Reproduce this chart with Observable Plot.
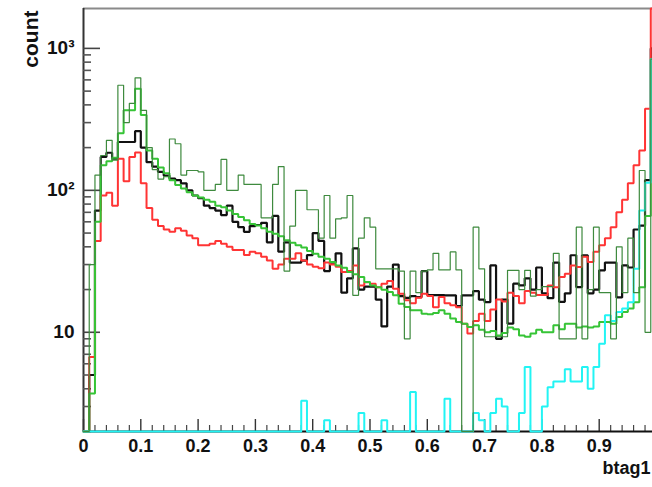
<!DOCTYPE html>
<html>
<head>
<meta charset="utf-8">
<script src="https://cdn.jsdelivr.net/npm/d3@7"></script>
<script src="https://cdn.jsdelivr.net/npm/@observablehq/plot@0.6"></script>
<style>
  html, body { margin: 0; padding: 0; background: #fff; }
  #chart svg { display: block; font-family: "Liberation Sans", Arial, Helvetica, sans-serif; }
</style>
</head>
<body>
<div id="chart"></div>
<script>
// Histogram binning of btag1: 100 bins on [0, 1]
const binCount = 100;
const xMin = 0, xMax = 1;
const yMin = 2, yMax = 1910;

// Bin contents per sample (counts per bin, bin 0 first)
const blackCounts = [
  0, 5, 72, 172, 184, 167, 219, 219, 219, 261,
  200, 158, 147, 135, 127, 121, 118, 112, 100, 92,
  88, 78, 75, 72, 67, 78, 60, 55, 51, 56,
  57, 59, 43, 66, 37, 43, 31, 31, 32, 35,
  50, 44, 27, 31, 36, 19, 24, 39, 20, 21,
  21, 17, 11, 21, 30, 18, 17.5, 18, 17.7, 27,
  18.3, 18.3, 18.3, 18.2, 18.2, 15.3, 18.2, 18.2, 19.5, 17,
  16.3, 29.6, 9, 17, 11.5, 22, 21.4, 24, 20, 28.6,
  18.8, 17.4, 31, 16.4, 18.8, 34.9, 20.8, 34.9, 18.8, 20,
  27.3, 31, 31, 17.6, 29.6, 28.6, 53, 56.5, 118, 1000
];
const redCounts = [
  0, 6.7, 44, 92, 96, 78, 167, 116, 172, 185,
  112, 75, 62, 56, 53, 51, 54, 52, 48, 46,
  41, 41, 42, 44, 42, 40, 38, 38, 35, 37,
  36, 34, 32, 28, 30, 33, 33, 36, 32, 30,
  28.9, 28.3, 31, 30, 29, 26.6, 27, 29.5, 21.4, 22.5,
  22, 20.8, 22, 23, 20.3, 18.7, 16.8, 16, 17.5, 18.7,
  18, 15, 17.7, 16, 15.5, 15, 11.5, 9.8, 12, 13.5,
  12, 14.5, 17, 16.5, 19, 18, 16, 19.5, 19, 18.3,
  18.3, 21.4, 20.8, 24.5, 25.8, 29.6, 28.8, 34, 31.3, 37,
  41, 46, 55, 70, 86, 112, 150, 191, 376, 2500
];
const greenCounts = [
  0, 3.7, 60, 150, 160, 170, 252, 366, 366, 520,
  340, 191, 167, 145, 132, 118, 109, 103, 97, 92,
  89, 86, 83, 78, 76, 72, 68, 65, 61.5, 58,
  56.6, 54, 51, 49.5, 47.5, 44.5, 42.7, 41, 39.5, 37.4,
  35.8, 34, 33, 31.3, 29.6, 28.5, 26.6, 25.6, 24.5, 22.6,
  21.4, 20.8, 19.9, 19.2, 18.2, 15.9, 15.1, 14.3, 14.3, 13.5,
  13.4, 13.7, 14.3, 13.5, 12.5, 11.8, 11.5, 10.9, 11.2, 10.4,
  10, 10.2, 9.5, 9.9, 10.8, 10.5, 9.5, 9.3, 9.8, 10.4,
  10, 10, 11.2, 10.5, 11.5, 11.5, 10.8, 11, 10.8, 11,
  11.8, 11.8, 11.5, 12.8, 13.9, 14.7, 16.3, 20.8, 66, 840
];
const darkGreenCounts = [
  0, 30, 128, 176, 225, 163, 550, 300, 410, 620,
  366, 200, 140, 120, 125, 230, 213, 128, 138, 138,
  135, 100, 100, 110, 165, 100, 100, 128, 110, 110,
  110, 64, 64, 110, 147, 27, 56, 100, 100, 73,
  73, 46, 92, 46, 63, 64, 92, 18.2, 46, 64,
  55, 28, 28, 28, 28, 27, 9, 27, 19, 27,
  27.5, 36, 27.5, 27.5, 36.8, 27.5, 0, 0, 55, 28,
  9.3, 9.3, 9.3, 9.3, 27.3, 27.3, 20, 27.3, 18, 20,
  21, 21, 36, 9, 9, 9, 55, 9, 20, 55,
  19, 19, 9, 40, 19, 46, 19, 138, 10, 840
];
const cyanCounts = [
  0, 0, 0, 0, 0, 0, 0, 0, 0, 0,
  0, 0, 0, 0, 0, 0, 0, 0, 0, 0,
  0, 0, 0, 0, 0, 0, 0, 0, 0, 0,
  0, 0, 0, 0, 0, 0, 0, 0, 3.3, 0,
  0, 0, 2.4, 0, 0, 0, 0, 0, 2.7, 0,
  0, 0, 2.4, 0, 0, 0, 0, 3.8, 0, 0,
  0, 0, 0, 3.4, 0, 0, 0, 0, 2.7, 2.4,
  0, 2.7, 3.4, 3, 0, 0, 2.7, 5.7, 0, 0,
  3, 4.1, 4.5, 4.5, 5.5, 4.5, 4.5, 5.7, 4, 5.7,
  8.3, 13.2, 12, 13.9, 14.7, 16.3, 28, 72, 113, 840
];

// Axis tick values and labels
const xTickValues = [0, 0.1, 0.2, 0.3, 0.4, 0.5, 0.6, 0.7, 0.8, 0.9];
const xTickLabels = ["0", "0.1", "0.2", "0.3", "0.4", "0.5", "0.6", "0.7", "0.8", "0.9"];
const yTickValues = [10, 100, 1000];
const yTickLabels = ["10", "10\u00B2", "10\u00B3"];
const xTitle = "btag1";
const yTitle = "count";

// Layout of the frame
const W = 652, H = 487;
const mLeft = 83, mRight = -4, mTop = 8, mBottom = 56;
const frameW = W - mLeft - mRight;
const frameH = H - mTop - mBottom;

// Bin edges; each series becomes a step outline over them (empty bins sit on the floor)
const edges = d3.range(binCount + 1).map(i => xMin + (xMax - xMin) * i / binCount);
function outline(values) {
  return edges.map((x, i) => ({x, y: values[Math.min(i, binCount - 1)]}));
}
const yFloor = d => Math.min(Math.max(d.y, yMin), yMax);

// Minor ticks: every 0.02 on x, 2..9 per decade on y
const xMinor = d3.range(0, 51).map(i => i * 0.02).filter(v => !xTickValues.some(t => Math.abs(t - v) < 1e-9) && v < 1.0001);
const yMinor = [];
for (const decade of [1, 10, 100, 1000]) {
  for (let k = 2; k <= 9; k++) {
    const v = k * decade;
    if (v >= yMin && v <= yMax && !yTickValues.includes(v)) yMinor.push(v);
  }
}

const histLine = (values, stroke, strokeWidth) =>
  Plot.line(outline(values), {x: "x", y: yFloor, curve: "step-after", stroke, strokeWidth, strokeLinejoin: "miter"});

const chart = Plot.plot({
  width: W,
  height: H,
  marginLeft: mLeft,
  marginRight: mRight,
  marginTop: mTop,
  marginBottom: mBottom,
  style: {background: "#fff", overflow: "hidden"},
  x: {domain: [xMin, xMax], axis: null},
  y: {type: "log", domain: [yMin, yMax], axis: null},
  marks: [
    // frame: grey top edge, dark left axis, black bottom axis
    Plot.ruleY([yMax], {stroke: "#8a8a8a", strokeWidth: 2}),
    Plot.ruleX([xMin], {stroke: "#333", strokeWidth: 2}),
    // ticks drawn inward
    Plot.ruleY(yTickValues, {stroke: "#444", strokeWidth: 1.6, insetRight: frameW - 17}),
    Plot.ruleY(yMinor, {stroke: "#555", strokeWidth: 1.6, insetRight: frameW - 8}),
    Plot.ruleX(xTickValues, {stroke: "#333", strokeWidth: 1.4, insetTop: frameH - 12}),
    Plot.ruleX(xMinor, {stroke: "#444", strokeWidth: 1.2, insetTop: frameH - 6}),
    Plot.ruleY([yMin], {stroke: "#111", strokeWidth: 2}),
    // histograms
    histLine(blackCounts, "#111", 2.2),
    histLine(redCounts, "#ff3434", 2),
    histLine(greenCounts, "#36c436", 2),
    histLine(cyanCounts, "#22f4f4", 2),
    histLine(darkGreenCounts, "#3e8a3e", 1.2),
    // tick labels
    Plot.text(xTickValues, {x: d => d, text: (d, i) => xTickLabels[i], frameAnchor: "bottom", dy: 20,
      fontSize: 18, fontWeight: "bold", fill: "#111"}),
    Plot.text(yTickValues, {y: d => d, text: (d, i) => yTickLabels[i], frameAnchor: "left", dx: -9,
      textAnchor: "end", fontSize: 19, fontWeight: "bold", fill: "#111"}),
    // axis titles
    Plot.text([xTitle], {frameAnchor: "bottom-right", text: d => d, textAnchor: "end", dx: -6, dy: 42,
      fontSize: 18, fontWeight: "bold", fill: "#111"}),
    Plot.text([yTitle], {frameAnchor: "top-left", text: d => d, textAnchor: "end", rotate: -90,
      dx: -60, dy: 2, fontSize: 21, fontWeight: "bold", fill: "#111"})
  ]
});

document.getElementById("chart").appendChild(chart);
</script>
</body>
</html>
